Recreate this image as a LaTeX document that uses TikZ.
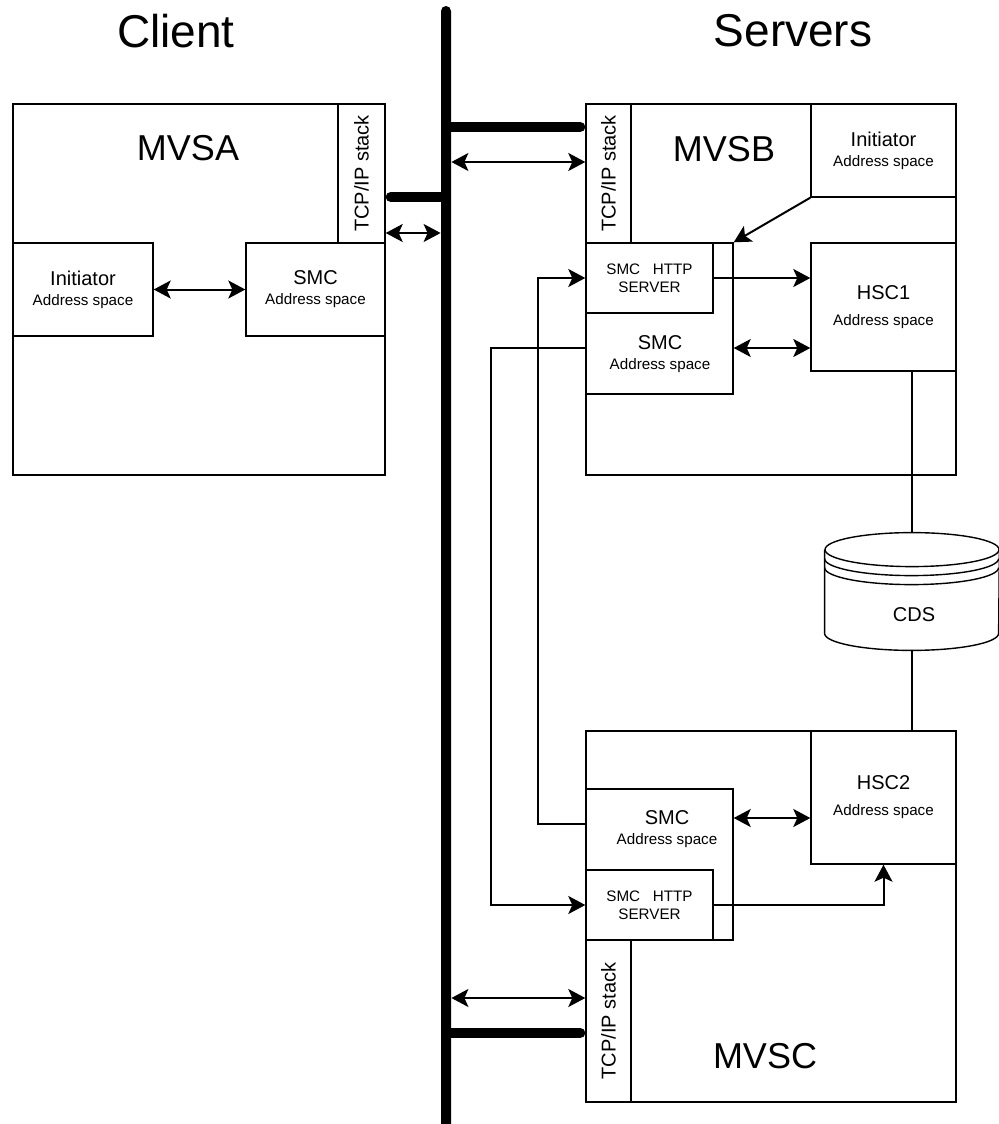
\documentclass[tikz,border=0pt]{standalone}
\usepackage{fontspec}
\setmainfont{Liberation Sans}
\usepackage{graphicx}
\usetikzlibrary{arrows.meta,positioning}

\newcommand{\addrsp}{{\fontsize{7.6}{9}\selectfont Address space}}

\begin{document}
\begin{tikzpicture}[x=0.5pt, y=-0.5pt,
  >={Stealth[length=8.5pt, width=9pt, inset=2pt]},
  box/.style={draw, line width=0.7pt, inner sep=0pt},
  proc/.style={box, fill=white, align=center, font=\fontsize{10}{10}\selectfont},
  httpbox/.style={box, fill=white, align=center, font=\fontsize{7.6}{9}\selectfont,
    minimum width=63.5pt, minimum height=35pt},
  stackbox/.style={box, minimum width=22.5pt, font=\fontsize{10}{12}\selectfont},
  sysname/.style={inner sep=0pt, font=\fontsize{18}{21}\selectfont},
  heading/.style={inner sep=0pt, font=\fontsize{23}{27}\selectfont},
  txt/.style={inner sep=0pt, align=center, font=\fontsize{10}{10}\selectfont},
  link/.style={line width=1pt},
  stub/.style={line width=5pt, line cap=round}]
\useasboundingbox (0,0) rectangle (998,1124);

% Titles
\node[heading] (client) at (176,31) {Client};
\node[heading] (servers) at (793,31) {Servers};

% Network bus
\node[fill, inner sep=0pt, minimum width=5pt, minimum height=562pt,
  rounded corners=2.5pt] (bus) at (446,568) {};

% Client system MVSA
\node[box, minimum width=186pt, minimum height=185.5pt] (mvsa) at (199,289.5) {};
\node[sysname] (mvsaname) at (188,148) {MVSA};
\node[stackbox, minimum width=23.5pt, minimum height=69.5pt] (tcpa) at (361.5,173.5) {\rotatebox{90}{TCP/IP stack}};
\node[proc, minimum width=70pt, minimum height=46.5pt] (initA) at (83,289.5) {Initiator\\\addrsp};
\node[proc, minimum width=69.5pt, minimum height=46.5pt] (smcA) at (315.5,289.5) {SMC\\\addrsp};
\draw[link, <->] (initA) -- (smcA);

% Server system MVSB
\node[box, minimum width=185pt, minimum height=185.5pt] (mvsb) at (771,289.5) {};
\node[sysname] (mvsbname) at (724,149) {MVSB};
\node[stackbox, minimum height=69.5pt] (tcpb) at (608.5,173.5) {\rotatebox{90}{TCP/IP stack}};
\node[proc, minimum width=72.5pt, minimum height=46.5pt] (initB) at (883.5,150.5) {Initiator\\\addrsp};
\node[proc, minimum width=72.5pt, minimum height=64pt] (hsc1) at (883.5,307) {HSC1\\[3pt]\addrsp};
\node[box, fill=white, minimum width=73.5pt, minimum height=75.5pt] (smcB) at (659.5,318.5) {};
\node[txt] (smcBtxt) at (660,354.5) {SMC\\\addrsp};
\node[httpbox] (httpB) at (649.5,278) {SMC\ \ \ HTTP\\SERVER};

% Server system MVSC
\node[box, minimum width=185pt, minimum height=185.5pt] (mvsc) at (771,916.5) {};
\node[sysname] (mvscname) at (765,1056) {MVSC};
\node[proc, minimum width=72.5pt, minimum height=66.5pt] (hsc2) at (883.5,797.5) {HSC2\\[3pt]\addrsp};
\node[box, fill=white, minimum width=73.5pt, minimum height=75.5pt] (smcC) at (659.5,864.5) {};
\node[txt] (smcCtxt) at (667,829) {SMC\\\addrsp};
\node[httpbox] (httpC) at (649.5,905) {SMC\ \ \ HTTP\\SERVER};
\node[stackbox, minimum height=81pt] (tcpc) at (608.5,1021) {\rotatebox{90}{TCP/IP stack}};

% Shared data set
\node[inner sep=0pt, minimum width=87pt, minimum height=58.5pt] (cds) at (912,591.5) {};
\node[txt] (cdstxt) at (914,615) {CDS};
\draw[line width=0.7pt] ([yshift=-8.5pt]cds.north) ellipse [x radius=43.5pt, y radius=8.5pt];
\draw[line width=0.7pt] ([yshift=-8.5pt]cds.north west) -- ([yshift=8.5pt]cds.south west)
  arc[start angle=180, end angle=360, x radius=43.5pt, y radius=8.5pt] -- ([yshift=-8.5pt]cds.north east);
\draw[line width=0.7pt] ([yshift=-13pt]cds.north west) arc[start angle=180, end angle=360, x radius=43.5pt, y radius=8.5pt];
\draw[line width=0.7pt] ([yshift=-17.5pt]cds.north west) arc[start angle=180, end angle=360, x radius=43.5pt, y radius=8.5pt];
\draw[link] (hsc1.south -| cds.north) -- (cds.north);
\draw[link] (cds.south) -- (cds.south |- hsc2.north);

% Links to the bus
\coordinate (sa) at ([xshift=2.5pt, yshift=-11.75pt]tcpa.east);
\coordinate (da) at ([yshift=-29.75pt]tcpa.east);
\coordinate (sb) at ([xshift=-2.5pt, yshift=23.25pt]tcpb.west);
\coordinate (db) at ([yshift=5.75pt]tcpb.west);
\coordinate (sc) at ([xshift=-2.5pt, yshift=-6pt]tcpc.west);
\coordinate (dc) at ([yshift=11.5pt]tcpc.west);
\draw[stub] (sa) -- (sa -| bus);
\draw[stub] (sb -| bus) -- (sb);
\draw[stub] (sc -| bus) -- (sc);
\draw[link, <->] (da) -- (da -| bus.west);
\draw[link, <->] (db -| bus.east) -- (db);
\draw[link, <->] (dc -| bus.east) -- (dc);

% Links inside the servers
\coordinate (smcBr) at ([yshift=-14.75pt]smcB.east);
\coordinate (smcCr) at ([yshift=23.25pt]smcC.east);
\draw[link, ->] (initB.south west) -- (smcB.north east);
\draw[link, ->] (httpB.east) -- (httpB.east -| hsc1.west);
\draw[link, <->] (smcBr) -- (smcBr -| hsc1.west);
\draw[link, <->] (smcCr) -- (smcCr -| hsc2.west);
\draw[link, ->] (httpC.east) -| (hsc2.south);

% Links between MVSB and MVSC
\draw[link, ->] ([yshift=-14.75pt]smcB.west) -- ++(-94,0) |- (httpC.west);
\draw[link, ->] ([yshift=20.25pt]smcC.west) -- ++(-47,0) |- (httpB.west);
\end{tikzpicture}
\end{document}
